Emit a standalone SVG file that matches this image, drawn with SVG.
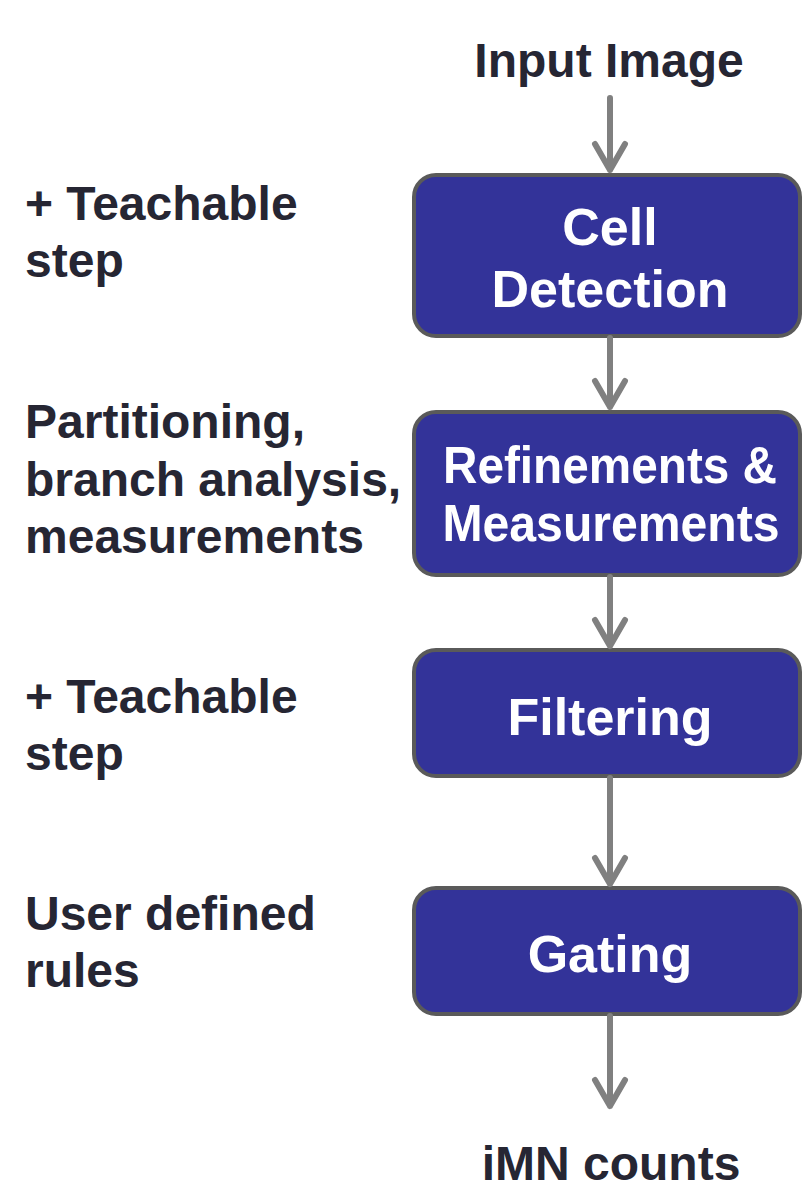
<svg xmlns="http://www.w3.org/2000/svg" width="802" height="1188" viewBox="0 0 802 1188">
<style>
.lbl{font-family:"Liberation Sans",Arial,sans-serif;font-weight:bold;font-size:48px;fill:#262633}
.box{fill:#333399;stroke:#5a5a5a;stroke-width:4}
.bt{font-family:"Liberation Sans",Arial,sans-serif;font-weight:bold;font-size:52px;fill:#ffffff;text-anchor:middle}
.ln{stroke:#808080;stroke-width:6;fill:none;stroke-linecap:round;stroke-linejoin:round}
</style>
<rect width="802" height="1188" fill="#ffffff"/>
<g id="input"><text class="lbl" x="609" y="77" text-anchor="middle" font-size="47">Input Image</text></g>
<g id="lbl1"><text class="lbl" x="25" y="220">+ Teachable</text><text class="lbl" x="25" y="277">step</text></g>
<g id="lbl2"><text class="lbl" x="25" y="438">Partitioning,</text><text class="lbl" x="25" y="496">branch analysis,</text><text class="lbl" x="25" y="553">measurements</text></g>
<g id="lbl3"><text class="lbl" x="25" y="713">+ Teachable</text><text class="lbl" x="25" y="770">step</text></g>
<g id="lbl4"><text class="lbl" x="25" y="930">User defined</text><text class="lbl" x="25" y="987">rules</text></g>
<g id="cell"><rect class="box" x="414" y="175" width="386" height="161" rx="22"/><text class="bt" x="610" y="245">Cell</text><text class="bt" x="610" y="307">Detection</text></g>
<g id="refine"><rect class="box" x="414" y="412" width="386" height="163" rx="22"/><text class="bt" x="610" y="483" font-size="45" textLength="334" lengthAdjust="spacingAndGlyphs">Refinements &amp;</text><text class="bt" x="611" y="541" font-size="45" textLength="337" lengthAdjust="spacingAndGlyphs">Measurements</text></g>
<g id="filter"><rect class="box" x="414" y="650" width="386" height="126" rx="22"/><text class="bt" x="610" y="735">Filtering</text></g>
<g id="gating"><rect class="box" x="414" y="888" width="386" height="126" rx="22"/><text class="bt" x="610" y="972">Gating</text></g>
<g id="output"><text class="lbl" x="611" y="1180" text-anchor="middle">iMN counts</text></g>
<g id="connectors" class="ln">
<path class="ln" d="M610 98V170M595 144L610 170L625 144"/>
<path class="ln" d="M610 338V407M595 381L610 407L625 381"/>
<path class="ln" d="M610 577V646M595 620L610 646L625 620"/>
<path class="ln" d="M610 778V884M595 858L610 884L625 858"/>
<path class="ln" d="M610 1016V1106M595 1080L610 1106L625 1080"/>
</g>
</svg>
